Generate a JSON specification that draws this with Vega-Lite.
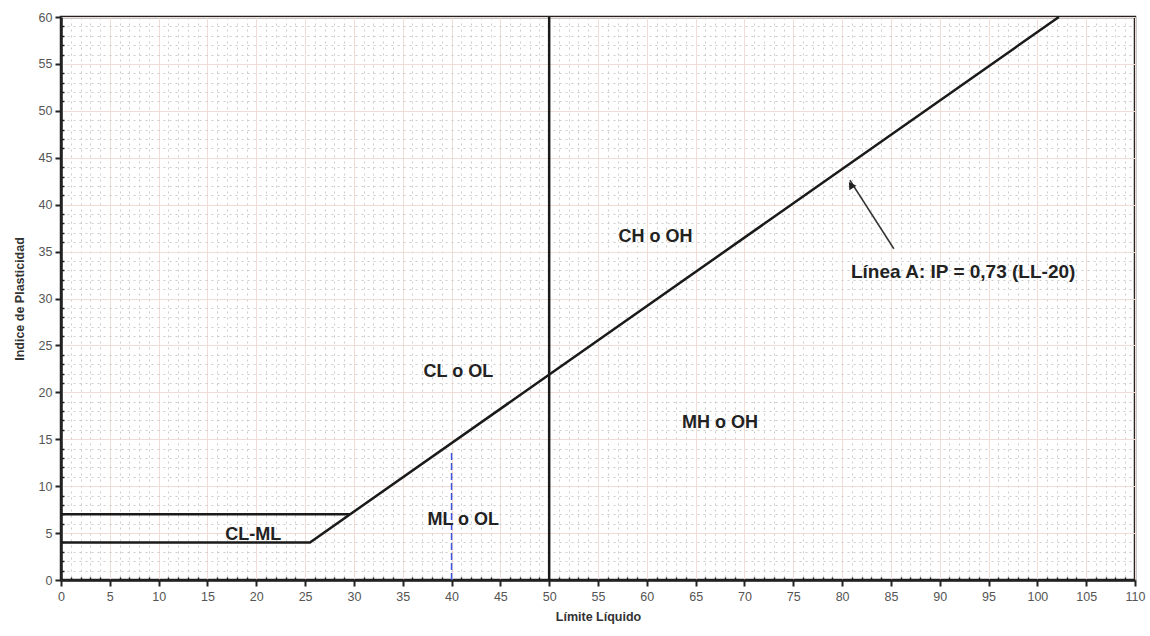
{
  "$schema": "https://vega.github.io/schema/vega-lite/v6.json",
  "width": 1074,
  "height": 563,
  "autosize": {"type": "none"},
  "padding": {"left": 61, "top": 17, "right": 15, "bottom": 56},
  "background": "white",
  "config": {
    "view": {"stroke": "#222", "strokeWidth": 2.5},
    "font": "Liberation Sans"
  },
  "datasets": {
    "black": [
      {"s": "A", "x": 0, "y": 4},
      {"s": "A", "x": 25.5, "y": 4},
      {"s": "A", "x": 102.2, "y": 60},
      {"s": "U", "x": 0, "y": 7},
      {"s": "U", "x": 29.6, "y": 7},
      {"s": "V", "x": 50, "y": 0},
      {"s": "V", "x": 50, "y": 60}
    ],
    "blue": [
      {"x": 40, "y": 0},
      {"x": 40, "y": 13.8}
    ],
    "arrow": [
      {"x": 85.3, "y": 35.3},
      {"x": 80.8, "y": 42.6}
    ],
    "head": [
      {"x": 80.9, "y": 42.1}
    ],
    "labels": [
      {"t": "CH o OH", "x": 60.9, "y": 36.6, "size": 18},
      {"t": "Línea A: IP = 0,73 (LL-20)", "x": 92.4, "y": 32.8, "size": 19},
      {"t": "CL o OL", "x": 40.7, "y": 22.2, "size": 18},
      {"t": "MH o OH", "x": 67.5, "y": 16.7, "size": 18},
      {"t": "ML o OL", "x": 41.2, "y": 6.4, "size": 18},
      {"t": "CL-ML", "x": 19.7, "y": 4.8, "size": 18}
    ]
  },
  "encoding": {
    "x": {
      "field": "x", "type": "quantitative",
      "scale": {"domain": [0, 110], "nice": false, "zero": false},
      "axis": {
        "title": "Límite Líquido",
        "titleFontSize": 12.5,
        "titleFontWeight": "bold",
        "titleColor": "#333",
        "titlePadding": 8,
        "values": [0,1,2,3,4,5,6,7,8,9,10,11,12,13,14,15,16,17,18,19,20,21,22,23,24,25,26,27,28,29,30,31,32,33,34,35,36,37,38,39,40,41,42,43,44,45,46,47,48,49,50,51,52,53,54,55,56,57,58,59,60,61,62,63,64,65,66,67,68,69,70,71,72,73,74,75,76,77,78,79,80,81,82,83,84,85,86,87,88,89,90,91,92,93,94,95,96,97,98,99,100,101,102,103,104,105,106,107,108,109,110],
        "labelExpr": "datum.value % 5 === 0 ? datum.label : ''",
        "labelFontSize": 12.5,
        "labelColor": "#555",
        "labelPadding": 4,
        "labelFlush": false,
        "domainColor": "#222",
        "domainWidth": 2.5,
        "tickColor": "#222",
        "tickWidth": {"condition": {"test": "datum.value % 5 === 0", "value": 2}, "value": 1.5},
        "tickSize": {"condition": {"test": "datum.value % 5 === 0", "value": 6}, "value": -3},
        "grid": true,
        "gridColor": {"condition": {"test": "datum.value % 5 === 0", "value": "#f0ddd5"}, "value": "#cccccc"},
        "gridDash": {"condition": {"test": "datum.value % 5 === 0", "value": []}, "value": [2, 4]},
        "gridWidth": 1
      }
    },
    "y": {
      "field": "y", "type": "quantitative",
      "scale": {"domain": [0, 60], "nice": false, "zero": false},
      "axis": {
        "title": "Indice de Plasticidad",
        "titleFontSize": 12.5,
        "titleFontWeight": "bold",
        "titleColor": "#333",
        "titlePadding": 12,
        "values": [0,1,2,3,4,5,6,7,8,9,10,11,12,13,14,15,16,17,18,19,20,21,22,23,24,25,26,27,28,29,30,31,32,33,34,35,36,37,38,39,40,41,42,43,44,45,46,47,48,49,50,51,52,53,54,55,56,57,58,59,60],
        "labelExpr": "datum.value % 5 === 0 ? datum.label : ''",
        "labelFontSize": 12.5,
        "labelColor": "#555",
        "labelPadding": 3,
        "labelFlush": false,
        "domainColor": "#222",
        "domainWidth": 2.5,
        "tickColor": "#222",
        "tickWidth": {"condition": {"test": "datum.value % 5 === 0", "value": 2}, "value": 1.5},
        "tickSize": {"condition": {"test": "datum.value % 5 === 0", "value": 6}, "value": -3},
        "grid": true,
        "gridColor": {"condition": {"test": "datum.value % 5 === 0", "value": "#f0ddd5"}, "value": "#cccccc"},
        "gridDash": {"condition": {"test": "datum.value % 5 === 0", "value": []}, "value": [2, 4]},
        "gridWidth": 1
      }
    }
  },
  "layer": [
    {
      "data": {"name": "black"},
      "mark": {"type": "line", "color": "#1a1a1a", "strokeWidth": 2.5},
      "encoding": {"detail": {"field": "s"}, "order": {"field": "y"}}
    },
    {
      "data": {"name": "blue"},
      "mark": {"type": "line", "color": "#3b55e0", "strokeWidth": 1.5, "strokeDash": [7, 3]},
      "encoding": {}
    },
    {
      "data": {"name": "arrow"},
      "mark": {"type": "line", "color": "#333", "strokeWidth": 1.5},
      "encoding": {}
    },
    {
      "data": {"name": "head"},
      "mark": {"type": "point", "shape": "triangle-up", "filled": true, "color": "#222", "size": 70, "angle": 327, "opacity": 1},
      "encoding": {}
    },
    {
      "data": {"name": "labels"},
      "mark": {"type": "text", "fontWeight": "bold", "color": "#222", "align": "center", "baseline": "middle"},
      "encoding": {
        "text": {"field": "t"},
        "size": {"field": "size", "type": "quantitative", "scale": null}
      }
    }
  ]
}
